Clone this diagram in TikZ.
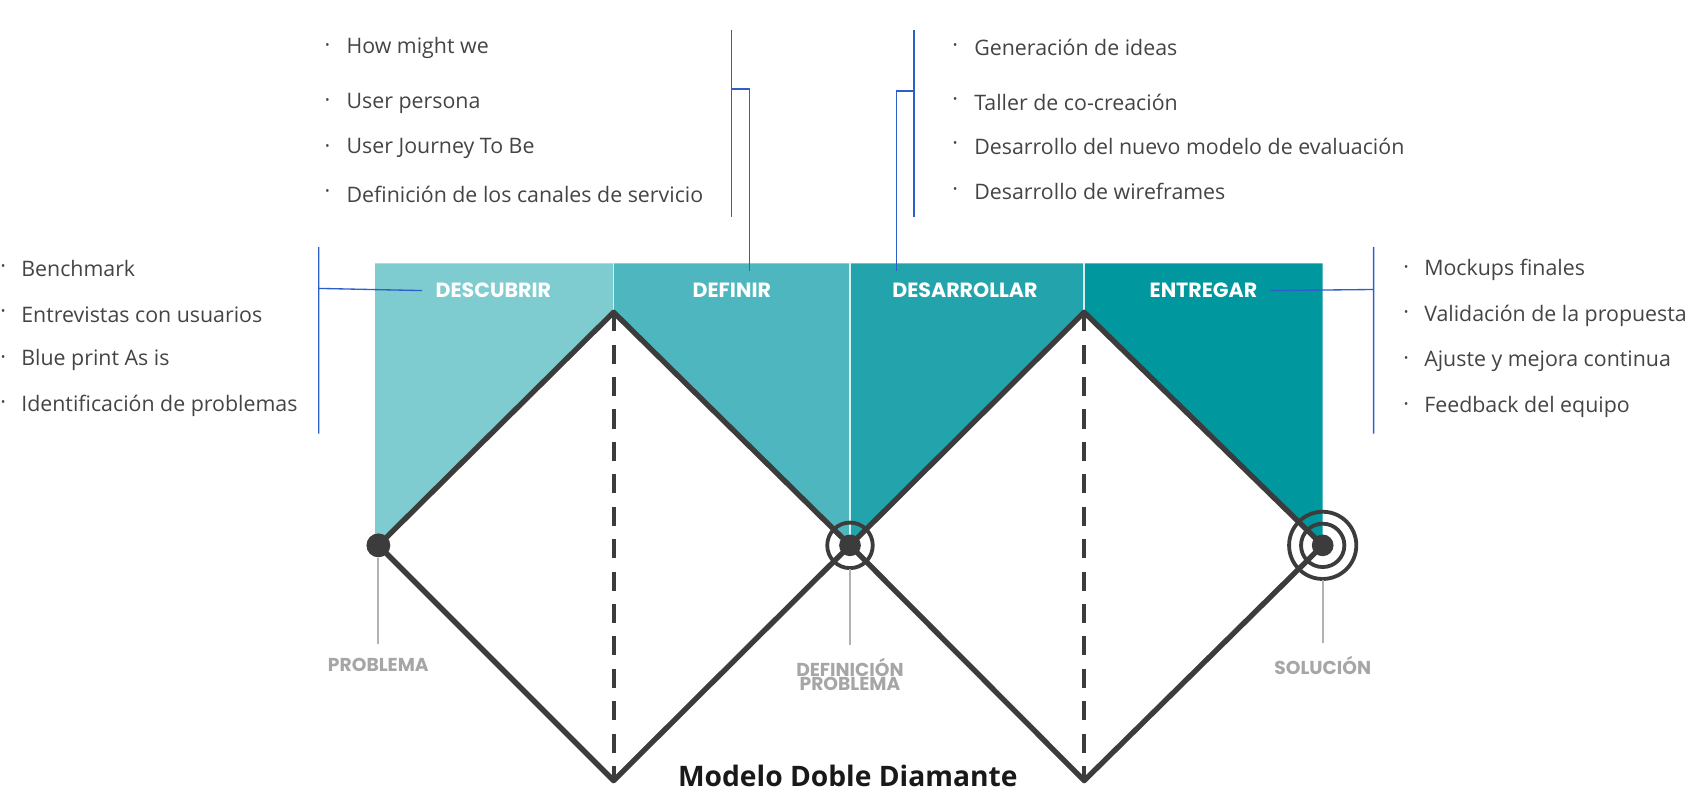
\documentclass[tikz,border=0pt]{standalone}
\usepackage{fontspec}
\setmainfont{Open Sans}
\newfontfamily\labfont{Poppins}
\usetikzlibrary{positioning}
\definecolor{tealA}{HTML}{7ECBD0}
\definecolor{tealB}{HTML}{4DB6BE}
\definecolor{tealC}{HTML}{23A3AB}
\definecolor{tealD}{HTML}{00979F}
\definecolor{bracket}{HTML}{2E5FC9}
\definecolor{txt}{HTML}{444444}
\definecolor{dia}{HTML}{3C3C3C}
\tikzset{
  item/.style={anchor=west,inner sep=0pt,text=txt,font=\fontsize{5.6}{6}\selectfont},
  bul/.style={anchor=center,inner sep=0pt,text=txt,font=\fontsize{5.6}{6}\selectfont},
  phase/.style={text=white,font=\labfont\bfseries\fontsize{5.4}{6}\selectfont},
  milestone/.style={text=gray!70,align=center,font=\labfont\bfseries\fontsize{4.9}{5.2}\selectfont},
  brk/.style={bracket,line width=0.35pt},
  diaedge/.style={dia,line width=1.4pt},
}
\begin{document}
\begin{tikzpicture}[x=0.01cm,y=-0.01cm]
  \useasboundingbox (0,0) rectangle (1568,735);
  % teal band
  \fill[tealA] (346,243) -- (566,243) -- (566,288) -- (349,503) -- (346,503) -- cycle;
  \fill[tealB] (566,243) -- (784,243) -- (784,503) -- (566,288) -- cycle;
  \fill[tealC] (784,243) -- (1000,243) -- (1000,288) -- (784,503) -- cycle;
  \fill[tealD] (1000,243) -- (1220,243) -- (1220,503) -- (1000,288) -- cycle;
  \draw[white!80!tealB,line width=0.4pt] (566,243) -- (566,288) (784,243) -- (784,503) (1000,243) -- (1000,288);
  \node[phase] (descubrir) at (455,268) {DESCUBRIR};
  \node[phase] (definir) at (675,268) {DEFINIR};
  \node[phase] (desarrollar) at (890,268) {DESARROLLAR};
  \node[phase] (entregar) at (1110,268) {ENTREGAR};
  % diamonds
  \coordinate (p1) at (349,503); \coordinate (t1) at (566,288);
  \coordinate (p2) at (784,503); \coordinate (b1) at (566,720);
  \coordinate (t2) at (1000,288); \coordinate (p3) at (1220,503);
  \coordinate (b2) at (1000,720);
  \draw[diaedge,line join=round] (p1) -- (t1) -- (p2) -- (b1) -- cycle;
  \draw[diaedge,line join=round] (p2) -- (t2) -- (p3) -- (b2) -- cycle;
  \draw[dia,line width=1pt,dash pattern=on 5pt off 3.5pt] (t1) -- (b1) (t2) -- (b2);
  % markers
  \fill[dia] (p1) circle (11);
  \fill[dia] (p2) circle (10);
  \draw[dia,line width=1pt] (p2) circle (21);
  \fill[dia] (p3) circle (10);
  \draw[dia,line width=1pt] (p3) circle (20) (p3) circle (31);
  \node[milestone] (problema) at (349,613) {PROBLEMA};
  \node[milestone] (defprob) at (784,622) {DEFINICIÓN\\[-1.5pt]PROBLEMA};
  \node[milestone] (solucion) at (1220,614) {SOLUCIÓN};
  \draw[gray!60,line width=0.5pt] (349,515) -- (problema.north);
  \draw[gray!60,line width=0.5pt] (784,525) -- (defprob.north);
  \draw[gray!60,line width=0.5pt] (1220,535) -- (solucion.north);
  % brackets
  \draw[brk] (294,228) -- (294,400) (294,266) -- (descubrir.west);
  \draw[brk] (675,28) -- (675,200) (675,82) -- (691,82) -- (691,250);
  \draw[brk] (843,28) -- (843,200) (843,84) -- (827,84) -- (827,250);
  \draw[brk] (1267,228) -- (1267,400) (1267,267) -- (entregar.east);
  % lists
  \foreach \t [count=\i] in {Benchmark,Entrevistas con usuarios,Blue print As is,Identificación de problemas}
    {\node[bul] at (3,{206+42*\i}) {·}; \node[item] (l\i) at (19,{206+42*\i}) {\t};}
  \foreach \t/\y [count=\i] in {How might we/44,User persona/95,User Journey To Be/137,Definición de los canales de servicio/179}
    {\node[bul] at (302,\y) {·}; \node[item] (d\i) at (319,\y) {\t};}
  \foreach \t/\y [count=\i] in {Generación de ideas/44,Taller de co-creación/94,Desarrollo del nuevo modelo de evaluación/135,Desarrollo de wireframes/177}
    {\node[bul] at (881,\y) {·}; \node[item] (g\i) at (898,\y) {\t};}
  \foreach \t [count=\i] in {Mockups finales,Validación de la propuesta,Ajuste y mejora continua,Feedback del equipo}
    {\node[bul] at (1297,{207+42*\i}) {·}; \node[item] (r\i) at (1313,{207+42*\i}) {\t};}
  \node[font=\bfseries\fontsize{7.4}{8}\selectfont,text=black!90] (title) at (782,716) {Modelo Doble Diamante};
\end{tikzpicture}
\end{document}
